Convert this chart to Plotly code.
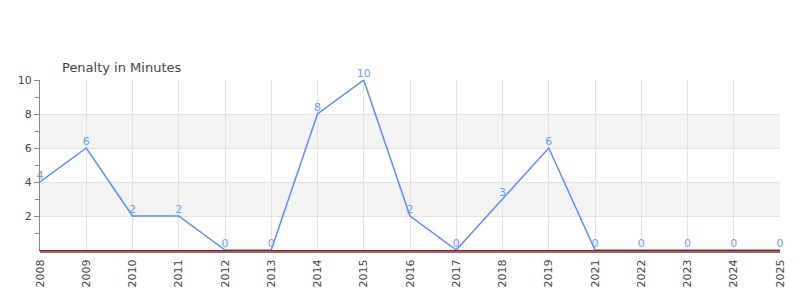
import plotly.graph_objects as go

years = ["2008", "2009", "2010", "2011", "2012", "2013", "2014", "2015", "2016",
         "2017", "2018", "2019", "2021", "2022", "2023", "2024", "2025"]
penalty = [4, 6, 2, 2, 0, 0, 8, 10, 2, 0, 3, 6, 0, 0, 0, 0, 0]
title_text = "Penalty in Minutes"
y_ticks = [2, 4, 6, 8, 10]
bands = [(2, 4), (6, 8)]

fig = go.Figure()
fig.add_trace(go.Scatter(
    x=years, y=penalty, mode="lines+text",
    line=dict(color="#5b8def", width=1.5),
    text=[str(v) for v in penalty], textposition="top center",
    textfont=dict(color="#6d9eeb", size=11, family="DejaVu Sans"),
    cliponaxis=False, hoverinfo="skip",
))
for y0, y1 in bands:
    fig.add_shape(type="rect", xref="paper", yref="y", x0=0, x1=1, y0=y0, y1=y1,
                  fillcolor="#f3f3f3", line=dict(width=0), layer="below")
# gray base line just under the red axis line
fig.add_shape(type="line", xref="paper", yref="paper", x0=0, x1=1,
              y0=-2 / 170, y1=-2 / 170, line=dict(color="#777", width=2), layer="above")

fig.update_layout(
    width=800, height=300,
    margin=dict(l=40, r=20, t=80, b=50),
    paper_bgcolor="white", plot_bgcolor="white",
    showlegend=False,
    font=dict(family="DejaVu Sans", size=11, color="#444"),
    title=dict(text=title_text, x=62/800, xanchor="left", y=1-67/300, yanchor="middle",
               font=dict(size=13, color="#444", family="DejaVu Sans")),
    xaxis=dict(type="category", range=[0, len(years) - 1], tickangle=-90,
               showgrid=True, gridcolor="#e3e3e3", gridwidth=1,
               showline=True, linecolor="#cc0000", linewidth=1,
               ticks="", ticklabelstandoff=4, tickfont=dict(size=11, color="#444")),
    yaxis=dict(range=[0, 10], tickvals=y_ticks, showgrid=True, gridcolor="#e3e3e3",
               zeroline=False, showline=True, linecolor="#888", linewidth=1,
               ticks="outside", ticklen=5, tickcolor="#888",
               minor=dict(tickvals=[1, 3, 5, 7, 9], ticks="outside", ticklen=4,
                          tickcolor="#888", showgrid=False),
               tickfont=dict(size=11, color="#444")),
)
fig.write_html("out.html")
